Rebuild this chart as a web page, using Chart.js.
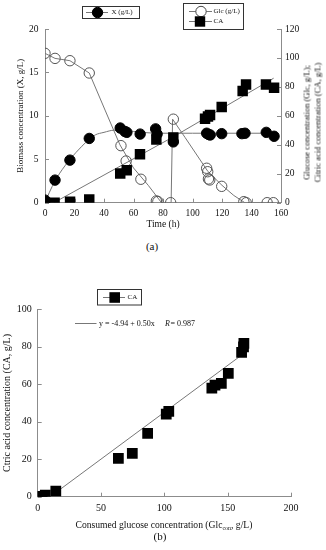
<!DOCTYPE html>
<html><head><meta charset="utf-8">
<script src="https://cdn.jsdelivr.net/npm/chart.js@4"></script>
<style>
html,body{margin:0;padding:0;background:#fff;}
#wrap{position:relative;width:326px;height:550px;overflow:hidden;background:#fff;font-family:"Liberation Serif","DejaVu Serif",serif;color:#111;}
canvas{position:absolute;left:0;}
.lbl{position:absolute;white-space:nowrap;}
</style></head><body>
<div id="wrap">
<canvas id="cA" width="326" height="235" style="top:0"></canvas>
<canvas id="cB" width="326" height="255" style="top:280px"></canvas>
<div class="lbl" style="left:242px;top:111.5px;width:140px;height:21px;font-size:8.5px;line-height:10.5px;text-align:center;transform:rotate(-90deg);">Glucose concentration (Glc, g/L);<br>Citric acid concentration (CA, g/L)</div>
<div class="lbl" style="left:132px;top:240px;width:40px;text-align:center;font-size:11px;line-height:13px;">(a)</div>
<div class="lbl" style="left:140px;top:530px;width:40px;text-align:center;font-size:11px;line-height:13px;">(b)</div>
<div class="lbl" style="left:44px;top:519px;width:240px;text-align:center;font-size:9.6px;line-height:12px;">Consumed glucose concentration (Glc<sub style="font-size:6px;vertical-align:-2px;line-height:0">con</sub>, g/L)</div>
</div>
<script>
// ---------- Data (a) ----------
const timeX     = [0, 6.8, 16.9, 30, 51, 54.2, 55.5, 64.5, 75, 76, 87, 109.6, 111, 112, 119.8, 133.5, 135.6, 150, 155.3];
const biomassX  = [0.3, 2.6, 4.9, 7.4, 8.6, 8.2, 8.1, 7.9, 8.5, 7.9, 7.0, 8.0, 7.85, 7.8, 7.95, 7.95, 8.0, 8.1, 7.65];
const timeXFit    = [0, 3, 6.8, 10, 17, 25, 30, 34, 40, 47, 55, 65, 80, 100, 130, 156];
const biomassXFit = [0, 1.2, 2.5, 3.4, 5.0, 6.5, 7.3, 7.8, 8.1, 8.35, 8.3, 8.1, 8.0, 8.0, 8.0, 8.0];
const timeGlc = [0, 6.8, 16.9, 30, 51.5, 55, 65, 75.5, 76.5, 85.2, 87, 109.6, 110.3, 110.8, 111.7, 119.8, 134.8, 136.4, 150.6, 154.8];
const glc     = [103.2, 99.7, 98.1, 89.6, 39.4, 28.8, 16.2, 1.2, 0.8, 0, 57.7, 23.8, 21.4, 16.4, 15.7, 11.3, 0.7, 0, 0, 0];
const timeGlcModel = [0, 6.8, 16.9, 30, 40.7, 50.8, 60, 70, 76, 79, 85.5, 86.5, 95, 110.5, 120, 128, 135.5, 155];
const glcModel     = [103.2, 99.7, 98.1, 89.6, 64, 40, 24, 12, 4, 0, 0, 57.7, 45, 21.5, 12, 5, 0, 0];
const timeCA = [0, 6.5, 17, 30, 51, 55.4, 64.4, 75.5, 87, 108.5, 110.5, 111.9, 119.8, 134, 136.3, 149.8, 155.3];
const ca     = [0, 0, 0.7, 2.3, 20.2, 22.4, 33.4, 43.6, 45, 58.0, 59.5, 60.6, 66.1, 77.2, 81.6, 81.6, 79.4];
const timeCAModel = [6, 87, 155];
const caModel     = [0, 45.5, 86];
const timeTicks = [0, 20, 40, 60, 80, 100, 120, 140, 160];
const biomassTicks = [0, 5, 10, 15, 20];
const concTicks = [0, 20, 40, 60, 80, 100, 120];
// ---------- Data (b) ----------
const glcConsumed = [0, 3.5, 6, 14.3, 63.7, 74.7, 86.8, 101.5, 103.5, 137.5, 140, 145, 150.5, 161, 162.5, 162.8];
const caConsumed  = [0, 0.2, 0.8, 3.0, 20.5, 23.1, 33.8, 44.0, 45.5, 58.0, 59.5, 60.5, 65.8, 77.0, 80.0, 81.8];
const regX = [12, 166];
const regY = [1.06, 78.06];
const consumedTicks = [0, 50, 100, 150, 200];
const caTicks = [0, 20, 40, 60, 80, 100];

const pts = (xs, ys) => xs.map((x, i) => ({x: x, y: ys[i]}));
const AX = '#8c8c8c', LN = '#777', TXT = '#111';
const SERIF = '"Liberation Serif", "DejaVu Serif", serif';
const tickFont = {family: SERIF, size: 9.5};
const setTicks = arr => (s => { s.ticks = arr.map(v => ({value: v})); });

const insideTicks = {
  id: 'insideTicks',
  beforeDatasetsDraw(chart) {
    const ctx = chart.ctx; ctx.save(); ctx.strokeStyle = AX; ctx.lineWidth = 1;
    for (const s of Object.values(chart.scales)) {
      s.ticks.forEach(t => {
        const p = Math.round(s.getPixelForValue(t.value)) + 0.5;
        ctx.beginPath();
        if (s.isHorizontal()) { ctx.moveTo(p, s.top); ctx.lineTo(p, s.top - 4); }
        else if (s.position === 'left') { ctx.moveTo(s.right, p); ctx.lineTo(s.right + 4, p); }
        else { ctx.moveTo(s.left, p); ctx.lineTo(s.left - 4, p); }
        ctx.stroke();
      });
    }
    ctx.restore();
  }
};

function seg(ctx, x1, x2, y) { ctx.strokeStyle = LN; ctx.lineWidth = 1; ctx.beginPath(); ctx.moveTo(x1, y); ctx.lineTo(x2, y); ctx.stroke(); }
function dot(ctx, x, y, r, open) { ctx.beginPath(); ctx.arc(x, y, r, 0, Math.PI * 2); ctx.fillStyle = open ? '#fff' : '#000'; ctx.fill(); ctx.strokeStyle = open ? '#444' : '#000'; ctx.lineWidth = 1; ctx.stroke(); }
function sq(ctx, x, y, h) { ctx.fillStyle = '#000'; ctx.fillRect(x - h, y - h, 2 * h, 2 * h); }

const legendA = {
  id: 'legendA',
  afterDraw(chart) {
    const ctx = chart.ctx; ctx.save();
    ctx.strokeStyle = '#333'; ctx.lineWidth = 1;
    ctx.strokeRect(82.5, 6.5, 57, 12);
    ctx.strokeStyle = '#333'; ctx.strokeRect(183.5, 3.5, 60, 26);
    seg(ctx, 86, 108, 12.5); dot(ctx, 97.5, 12.5, 5.2, false);
    seg(ctx, 189, 212, 11.5); dot(ctx, 201, 11.5, 5.2, true);
    seg(ctx, 189, 212, 21.5); sq(ctx, 200, 21.5, 5.2);
    ctx.fillStyle = TXT; ctx.font = '7px ' + SERIF; ctx.textBaseline = 'middle'; ctx.textAlign = 'left';
    ctx.fillText('X (g/L)', 111.5, 12.5);
    ctx.fillText('Glc (g/L)', 213.5, 11.5);
    ctx.fillText('CA', 213.5, 21.5);
    ctx.restore();
  }
};
const legendB = {
  id: 'legendB',
  afterDraw(chart) {
    const ctx = chart.ctx; ctx.save();
    ctx.strokeStyle = '#333'; ctx.lineWidth = 1;
    ctx.strokeRect(97.5, 9.5, 44, 15.5);
    seg(ctx, 103, 125, 17.5); sq(ctx, 114.7, 17.5, 5.3);
    ctx.fillStyle = TXT; ctx.font = '7px ' + SERIF; ctx.textBaseline = 'middle'; ctx.textAlign = 'left';
    ctx.fillText('CA', 127.5, 17.5);
    seg(ctx, 75, 96.5, 43.5);
    ctx.font = '8px ' + SERIF;
    ctx.fillText('y = -4.94 + 0.50x', 99, 43.5);
    ctx.font = 'italic 8px ' + SERIF;
    ctx.fillText('R', 165, 43.5);
    const w = ctx.measureText('R').width;
    ctx.font = '8px ' + SERIF;
    ctx.fillText('= 0.987', 165 + w + 0.5, 43.5);
    ctx.restore();
  }
};

const commonTicks = {font: tickFont, color: TXT};
const noGrid = {display: false, drawTicks: false};

new Chart(document.getElementById('cA'), {
  type: 'scatter',
  data: {datasets: [
    {label: 'X (g/L)', data: pts(timeX, biomassX), yAxisID: 'y', pointStyle: 'circle', pointRadius: 5.2, backgroundColor: '#000', borderColor: '#000', borderWidth: 1, showLine: false},
    {label: 'CA', data: pts(timeCA, ca), yAxisID: 'yR', pointStyle: 'rect', pointRadius: 7.4, backgroundColor: '#000', borderColor: '#000', borderWidth: 0, showLine: false},
    {label: 'Glc (g/L)', data: pts(timeGlc, glc), yAxisID: 'yR', pointStyle: 'circle', pointRadius: 5.2, backgroundColor: 'rgba(255,255,255,0)', borderColor: '#555', borderWidth: 1, showLine: false},
    {label: 'X fit', data: pts(timeXFit, biomassXFit), yAxisID: 'y', showLine: true, pointRadius: 0, borderColor: LN, borderWidth: 1, cubicInterpolationMode: 'monotone', fill: false},
    {label: 'Glc model', data: pts(timeGlcModel, glcModel), yAxisID: 'yR', showLine: true, pointRadius: 0, borderColor: LN, borderWidth: 1, tension: 0, fill: false},
    {label: 'CA model', data: pts(timeCAModel, caModel), yAxisID: 'yR', showLine: true, pointRadius: 0, borderColor: LN, borderWidth: 1, tension: 0, fill: false}
  ]},
  options: {
    responsive: false, animation: false, events: [],
    layout: {padding: {top: 29, left: 0, right: 0, bottom: 0}},
    plugins: {legend: {display: false}, tooltip: {enabled: false}},
    scales: {
      x: {type: 'linear', min: 0, max: 160, afterBuildTicks: setTicks(timeTicks), ticks: Object.assign({padding: 5}, commonTicks), grid: noGrid, border: {color: AX},
          title: {display: true, text: 'Time (h)', color: TXT, font: {family: SERIF, size: 9.5}, padding: {top: 0, bottom: 5}},
          afterFit(s) { s.height = 32.3; }},
      y: {position: 'left', min: 0, max: 20, afterBuildTicks: setTicks(biomassTicks), ticks: Object.assign({padding: 6.5}, commonTicks), grid: noGrid, border: {color: AX},
          title: {display: true, text: 'Biomass concentration (X, g/L)', color: TXT, font: {family: SERIF, size: 9}, padding: {top: 15.5, bottom: 0}},
          afterFit(s) { s.width = 45; }},
      yR: {position: 'right', min: 0, max: 120, afterBuildTicks: setTicks(concTicks), ticks: Object.assign({padding: 4}, commonTicks), grid: noGrid, border: {color: AX},
          afterFit(s) { s.width = 45; }}
    }
  },
  plugins: [insideTicks, legendA]
});

new Chart(document.getElementById('cB'), {
  type: 'scatter',
  data: {datasets: [
    {label: 'CA', data: pts(glcConsumed, caConsumed), pointStyle: 'rect', pointRadius: 7.6, backgroundColor: '#000', borderColor: '#000', borderWidth: 0, showLine: false},
    {label: 'fit', data: pts(regX, regY), showLine: true, pointRadius: 0, borderColor: LN, borderWidth: 1, fill: false}
  ]},
  options: {
    responsive: false, animation: false, events: [],
    layout: {padding: {top: 29.3, left: 0, right: 35, bottom: 0}},
    plugins: {legend: {display: false}, tooltip: {enabled: false}},
    scales: {
      x: {type: 'linear', min: 0, max: 200, afterBuildTicks: setTicks(consumedTicks), ticks: Object.assign({padding: 6}, commonTicks, {font: {family: SERIF, size: 10}}), grid: noGrid, border: {color: AX},
          afterFit(s) { s.height = 38.3; }},
      y: {position: 'left', min: 0, max: 100, afterBuildTicks: setTicks(caTicks), ticks: Object.assign({padding: 6}, commonTicks, {font: {family: SERIF, size: 10}}), grid: noGrid, border: {color: AX},
          title: {display: true, text: 'Ctric acid concentration (CA, g/L)', color: TXT, font: {family: SERIF, size: 10}, padding: {top: 1, bottom: 0}},
          afterFit(s) { s.width = 37.7; }}
    }
  },
  plugins: [insideTicks, legendB]
});
</script>
</body></html>
